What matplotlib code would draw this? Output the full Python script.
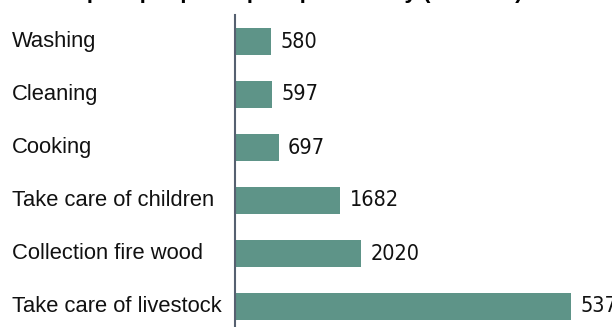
import matplotlib.pyplot as plt

activities = ['Washing', 'Cleaning', 'Cooking', 'Take care of children',
              'Collection fire wood', 'Take care of livestock']
values = [580, 597, 697, 1682, 2020, 5375]

plt.rcParams['font.family'] = ['Liberation Sans', 'DejaVu Sans']

fig = plt.figure(figsize=(6.12, 3.27), dpi=100)
# axes: left edge at the vertical line, runs a bit past the bottom of the figure
ax = fig.add_axes([235 / 612, -6 / 327, 375 / 612, 318 / 327])

ypos = list(range(len(activities)))
ax.barh(ypos, values, height=0.5, color='#5e9488')
ax.set_ylim(len(activities) - 0.5, -0.5)
ax.set_xlim(0, 6000)

# value labels (narrow font in the original)
for y, v in zip(ypos, values):
    ax.text(v + 150, y, str(v), va='center', ha='left', fontsize=15.5,
            family='DejaVu Sans', stretch='condensed', color='#111111')

ax.set_yticks([])
ax.set_xticks([])
for s in ['top', 'right', 'bottom']:
    ax.spines[s].set_visible(False)
ax.spines['left'].set_color('#566070')
ax.spines['left'].set_linewidth(1.5)

# category labels left aligned at the figure edge
for y, name in zip(ypos, activities):
    ax.annotate(name, xy=(0, y), xycoords=('figure fraction', 'data'),
                xytext=(12, 0), textcoords='offset pixels',
                ha='left', va='center', fontsize=15.8, color='#111111')

# title, mostly cut off at the top of the picture
fig.text(270 / 612, 1 - 3 / 327, 'Time spent per participant per activity (minutes)',
         ha='center', va='bottom', fontsize=16, fontweight='bold')

fig.savefig('out.png', dpi=100)
